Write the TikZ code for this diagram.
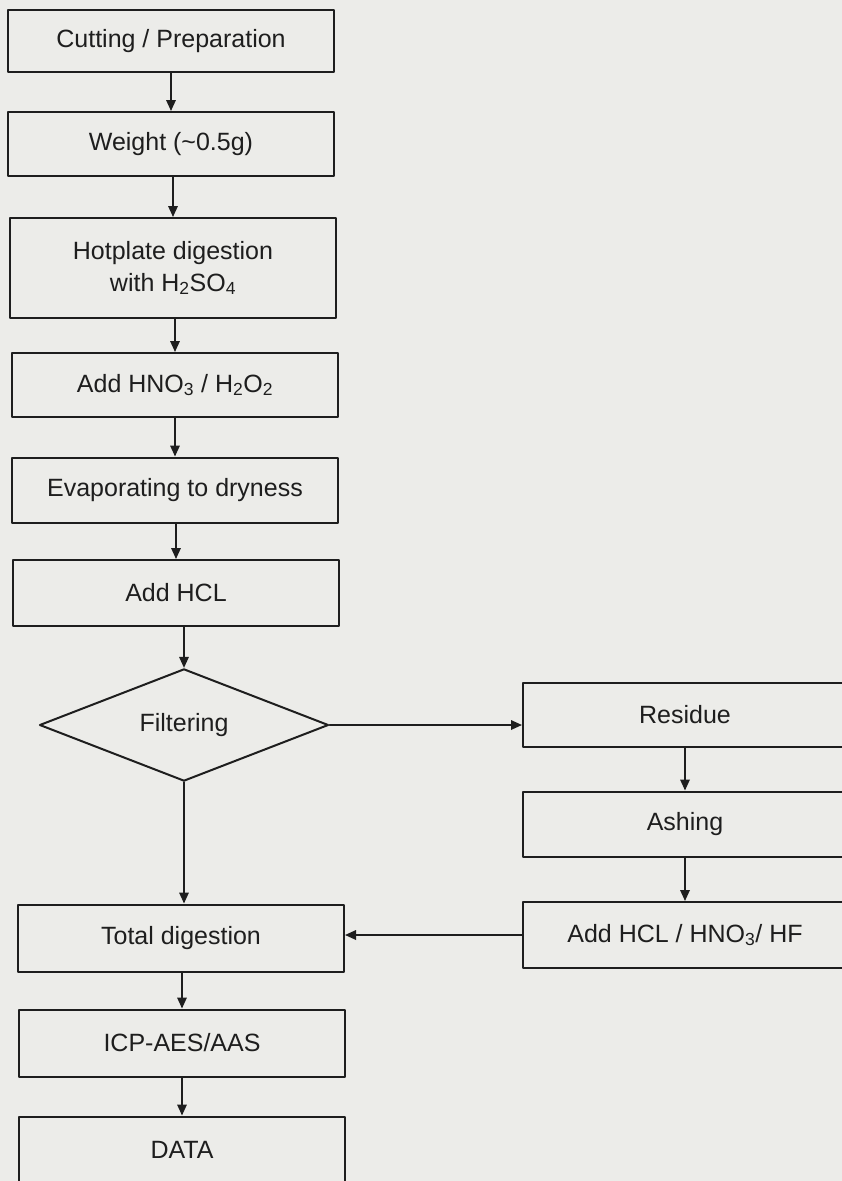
\documentclass[tikz,border=0pt]{standalone}
\usepackage{fontspec}
\setmainfont{Liberation Sans}
\usetikzlibrary{arrows.meta,shapes.geometric}

\definecolor{paper}{RGB}{236,236,233}
\definecolor{ink}{RGB}{30,30,30}

\begin{document}
\begin{tikzpicture}[x=1pt,y=-1pt,>={Triangle[length=11pt,width=9.5pt]},line cap=round,line join=round,
  stepbox/.style={draw=ink,text=ink,line width=2pt,minimum width=326pt,minimum height=64pt,inner sep=0pt,align=center,font=\fontsize{25}{32}\selectfont},
  flow/.style={->,draw=ink,line width=1.7pt}]
\fill[paper] (0,0) rectangle (842,1181);
\clip (0,0) rectangle (842,1181);
% main column
\node[stepbox,minimum height=62pt] (cut) at (171,41) {Cutting / Preparation};
\node[stepbox] (weight) at (171,144) {Weight (\textasciitilde 0.5g)};
\node[stepbox,minimum height=100pt] (hot) at (173,268) {Hotplate digestion\\with H\textsubscript{2}SO\textsubscript{4}};
\node[stepbox] (hno) at (175,385) {Add HNO\textsubscript{3} / H\textsubscript{2}O\textsubscript{2}};
\node[stepbox,minimum height=65pt] (evap) at (175,490) {Evaporating to dryness};
\node[stepbox,minimum height=66pt] (hcl) at (176,593) {Add HCL};
\node[diamond,draw=ink,text=ink,line width=2pt,minimum width=289pt,minimum height=101pt,inner sep=0pt,font=\fontsize{25}{32}\selectfont] (fil) at (184,725) {Filtering};
\node[stepbox,minimum height=67pt] (tot) at (181,938) {Total digestion};
\node[stepbox,minimum height=67pt] (icp) at (182,1043) {ICP-AES/AAS};
\node[stepbox,minimum height=67pt] (data) at (182,1150) {DATA};
% residue branch
\node[stepbox,minimum width=324pt] (res) at (685,715) {Residue};
\node[stepbox,minimum width=324pt,minimum height=65pt] (ash) at (685,824) {Ashing};
\node[stepbox,minimum width=324pt,minimum height=66pt] (addhf) at (685,935) {Add HCL / HNO\textsubscript{3}/ HF};
% arrows
\draw[flow] (cut.south -| weight.north) -- (weight.north);
\draw[flow] (weight.south -| hot.north) -- (hot.north);
\draw[flow] (hot.south -| hno.north) -- (hno.north);
\draw[flow] (hno.south -| evap.north) -- (evap.north);
\draw[flow] (evap.south -| hcl.north) -- (hcl.north);
\draw[flow] (hcl.south -| fil.north) -- (fil.north);
\draw[flow] (fil.south) -- (fil.south |- tot.north);
\draw[flow] (tot.south -| icp.north) -- (icp.north);
\draw[flow] (icp.south -| data.north) -- (data.north);
\draw[flow] (fil.east) -- (fil.east -| res.west);
\draw[flow] (res) -- (ash);
\draw[flow] (ash) -- (addhf);
\draw[flow] (addhf.west) -- (addhf.west -| tot.east);
\end{tikzpicture}
\end{document}
